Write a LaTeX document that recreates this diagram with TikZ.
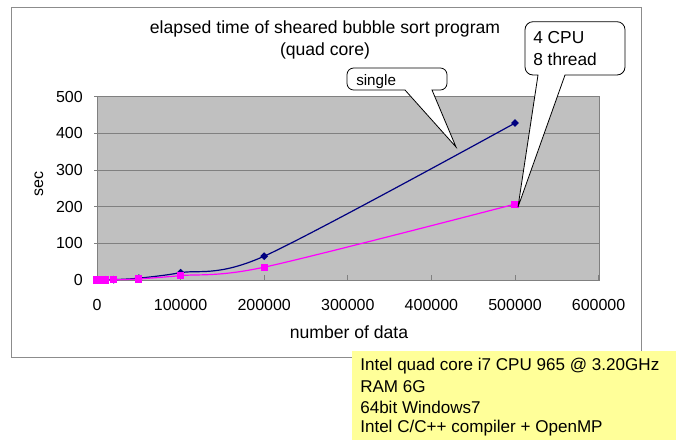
\documentclass[tikz,border=0pt]{standalone}
\usepackage{fontspec}
\setmainfont{Liberation Sans}
\usetikzlibrary{shapes.geometric}
\definecolor{plotbg}{HTML}{C0C0C0}
\definecolor{gridc}{HTML}{808080}
\definecolor{framec}{HTML}{8C8C8C}
\definecolor{navyline}{HTML}{000080}
\definecolor{pinkline}{HTML}{FF00FF}
\definecolor{notey}{HTML}{FFFF99}
\tikzset{
  lbl/.style={inner sep=0pt, font=\fontsize{12pt}{14pt}\selectfont},
  ttl/.style={inner sep=0pt, font=\fontsize{13.2pt}{15pt}\selectfont},
  bmark/.style={diamond, fill=navyline, inner sep=0pt, minimum size=6pt},
  pmark/.style={rectangle, fill=pinkline, inner sep=0pt, minimum size=5.4pt},
  callout/.style={draw=black, fill=white, line width=0.6pt},
  notebox/.style={fill=notey, inner sep=0pt, anchor=north west, minimum width=243.2pt, minimum height=67pt},
}
\begin{document}
\begin{tikzpicture}[x=0.75pt, y=-0.75pt]
\useasboundingbox (0,0) rectangle (681,440);
\fill[white] (0,0) rectangle (681,440);
% outer chart frame
\draw[framec, line width=0.7pt] (11,7.5) rectangle (641,357);
% title
\node[ttl] (title1) at (325,29) {elapsed time of sheared bubble sort program};
\node[ttl] (title2) at (325,51) {(quad core)};
% plot area
\fill[plotbg] (97,96.7) rectangle (599,280);
\foreach \s in {100,200,300,400}{
  \draw[gridc, line width=0.7pt] (97,{280-0.3666*\s}) -- (599,{280-0.3666*\s});
}
\draw[gridc, line width=0.7pt] (97,96.7) rectangle (599,280);
% y ticks and labels
\foreach \s in {0,100,200,300,400,500}{
  \draw[gridc, line width=0.7pt] (94,{280-0.3666*\s}) -- (97,{280-0.3666*\s});
  \node[lbl, anchor=east] (yl\s) at (83,{280-0.3666*\s}) {\s};
}
% x ticks and labels
\foreach \k in {0,1,2,3,4,5,6}{
  \draw[gridc, line width=0.7pt] ({97+83.6*\k},280) -- ({97+83.6*\k},275);
}
\node[lbl] (xl0) at (97,305) {0};
\foreach \k/\t in {1/100000,2/200000,3/300000,4/400000,5/500000,6/600000}{
  \node[lbl] (xl\k) at ({97+83.6*\k},305) {\t};
}
\node[lbl, font=\fontsize{13.2pt}{15pt}\selectfont] (xtitle) at (349,332) {number of data};
\node[lbl, rotate=90] (ytitle) at (39,184) {sec};
% data
\begin{scope}[shift={(97,280)}, x=0.627pt, y=0.275pt]
  % single (blue)
  \coordinate (b1) at (0,0);
  \coordinate (b2) at (5,0.2);
  \coordinate (b3) at (10,0.5);
  \coordinate (b4) at (20,1);
  \coordinate (b5) at (50,5);
  \coordinate (b6) at (100,20);
  \coordinate (b7) at (200,65);
  \coordinate (b8) at (500,428);
  \draw[navyline, line width=0.9pt] plot[smooth, tension=0.5] coordinates {(b1) (b2) (b3) (b4) (b5) (b6) (b7) (b8)};
  \foreach \i in {1,...,8}{ \node[bmark] (bm\i) at (b\i) {}; }
  % 8 thread (pink)
  \coordinate (p1) at (0,0);
  \coordinate (p2) at (5,0);
  \coordinate (p3) at (10,0);
  \coordinate (p4) at (20,0.5);
  \coordinate (p5) at (50,3);
  \coordinate (p6) at (100,12);
  \coordinate (p7) at (200,35);
  \coordinate (p8) at (500,207);
  \draw[pinkline, line width=0.9pt] plot[smooth, tension=0.5] coordinates {(p1) (p2) (p3) (p4) (p5) (p6) (p7) (p8)};
  \foreach \i in {1,...,8}{ \node[pmark] (pm\i) at (p\i) {}; }
\end{scope}
% callout "single"
\coordinate (stip) at (456,147);
\draw[callout] (stip) -- (405,90) [rounded corners=5pt] -- (347,90) -- (347,68) -- (447,68) -- (447,90) [sharp corners] -- (432,90) -- cycle;
\node[lbl, anchor=west, font=\fontsize{11.4pt}{13pt}\selectfont] (single) at (356,82) {single};
% callout "4 CPU 8 thread"
\coordinate (ctip) at (518,207);
\draw[callout] (ctip) -- (538,75) [rounded corners=6pt] -- (525,75) -- (525,21.7) -- (625,21.7) -- (625,75) [sharp corners] -- (565,75) -- cycle;
\node[lbl, anchor=west, font=\fontsize{13pt}{15.5pt}\selectfont] (cpu1) at (533,38) {4 CPU};
\node[lbl, anchor=west, font=\fontsize{13pt}{15.5pt}\selectfont] (cpu2) at (533,59) {8 thread};
% yellow note
\node[notebox] (note) at (351.7,350.7) {};
\begin{scope}[every node/.style={inner sep=0pt, anchor=west, font=\fontsize{12.8pt}{15pt}\selectfont}]
  \node (n1) at (360,366) {Intel quad core i7 CPU 965 @ 3.20GHz};
  \node (n2) at (360,386.7) {RAM 6G};
  \node (n3) at (360,407) {64bit Windows7};
  \node (n4) at (360,428) {Intel C/C++ compiler + OpenMP};
\end{scope}
\end{tikzpicture}
\end{document}
